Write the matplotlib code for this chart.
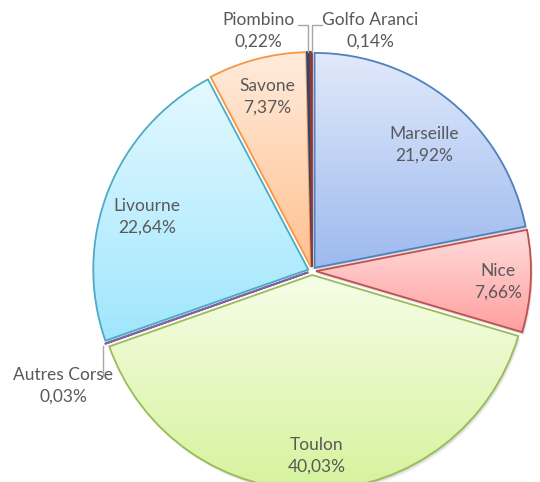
import numpy as np
import matplotlib.pyplot as plt
from matplotlib.patches import Wedge
from matplotlib.colors import LinearSegmentedColormap

plt.rcParams['font.family'] = ['Lato', 'DejaVu Sans']

# data
ports = ["Marseille", "Nice", "Toulon", "Autres Corse", "Livourne", "Savone", "Piombino", "Golfo Aranci"]
shares = [21.92, 7.66, 40.03, 0.03, 22.64, 7.37, 0.22, 0.14]

# styles
edge_colors = ["#4f81bd", "#c0504d", "#9bbb59", "#8064a2", "#4bacc6", "#f79646", "#1f497d", "#943634"]
top_colors = ["#e2eafb", "#ffdede", "#f7fde8", "#d9cdee", "#e4f9ff", "#ffecdd", "#1f497d", "#8c3332"]
bottom_colors = ["#9cb9ef", "#ff9e9e", "#d5f39b", "#b9a3dc", "#9fe6fd", "#ffc08e", "#1f497d", "#8c3332"]
text_col = "#595959"

# label centres in pixels (from top-left), layout only
label_pos = {"Marseille": (424, 145), "Nice": (498, 282), "Toulon": (317, 456),
             "Livourne": (147, 217), "Savone": (267, 97),
             "Piombino": (258, 31), "Golfo Aranci": (370, 31), "Autres Corse": (63, 386)}

W, H = 540, 482
fig = plt.figure(figsize=(5.4, 4.82), dpi=100)
ax = fig.add_axes([0, 0, 1, 1])

cx, cy, R, expl = 312, 211, 215, 4
wedges, _ = ax.pie(shares, startangle=90, counterclock=False, center=(cx, cy),
                   radius=R, explode=[expl] * len(shares),
                   wedgeprops=dict(linewidth=1.3), frame=True)

for i, w in enumerate(wedges):
    w.set_edgecolor(edge_colors[i])
    w.set_facecolor("none")
    w.set_zorder(3)
    # soft shadow
    for k, a in [(3.5, 0.08), (2.5, 0.12), (1.5, 0.15)]:
        sh = Wedge((w.center[0] + k * 0.6, w.center[1] - k), w.r, w.theta1, w.theta2,
                   facecolor="#7f7f7f", edgecolor="none", alpha=a, zorder=1)
        ax.add_patch(sh)
    # vertical gradient fill clipped to the wedge
    v = w.get_path().vertices
    x0, x1 = v[:, 0].min(), v[:, 0].max()
    y0, y1 = v[:, 1].min(), v[:, 1].max()
    cmap = LinearSegmentedColormap.from_list("g", [bottom_colors[i], top_colors[i]])
    grad = np.linspace(0, 1, 256).reshape(-1, 1)
    im = ax.imshow(grad, cmap=cmap, extent=(x0 - 2, x1 + 2, y0 - 2, y1 + 2),
                   origin="lower", aspect="auto", zorder=2, interpolation="bilinear")
    im.set_clip_path(w)


def fmt(p):
    return f"{p:.2f}".replace(".", ",") + "%"


cum = np.concatenate([[0], np.cumsum(shares)]) / sum(shares)
mids = 90 - 360 * (cum[:-1] + cum[1:]) / 2

for i, name in enumerate(ports):
    px, py = label_pos[name]
    tx, ty = px, H - py
    ax.text(tx, ty, f"{name}\n{fmt(shares[i])}", ha="center", va="center",
            fontsize=12.5, color=text_col, linespacing=1.4, zorder=5)
    if shares[i] >= 1:
        continue
    # leader lines for the tiny slices
    a = np.deg2rad(mids[i])
    ex = cx + (R + expl) * np.cos(a)
    ey = cy + (R + expl) * np.sin(a)
    if tx < ex and ty > ey:
        ax.plot([ex - 1, ex - 1, ex - 11], [ey, ty + 6, ty + 6], color="#a6a6a6", lw=1, zorder=4)
    elif ty > ey:
        ax.plot([ex + 1, ex + 1, ex + 11], [ey, ty + 6, ty + 6], color="#a6a6a6", lw=1, zorder=4)
    else:
        ax.plot([ex - 2, ex - 2], [ey - 2, ey - 32], color="#a6a6a6", lw=1, zorder=4)

ax.set_xlim(0, W)
ax.set_ylim(0, H)
ax.set_aspect("equal")
ax.axis("off")

fig.savefig("out.png", dpi=100)
